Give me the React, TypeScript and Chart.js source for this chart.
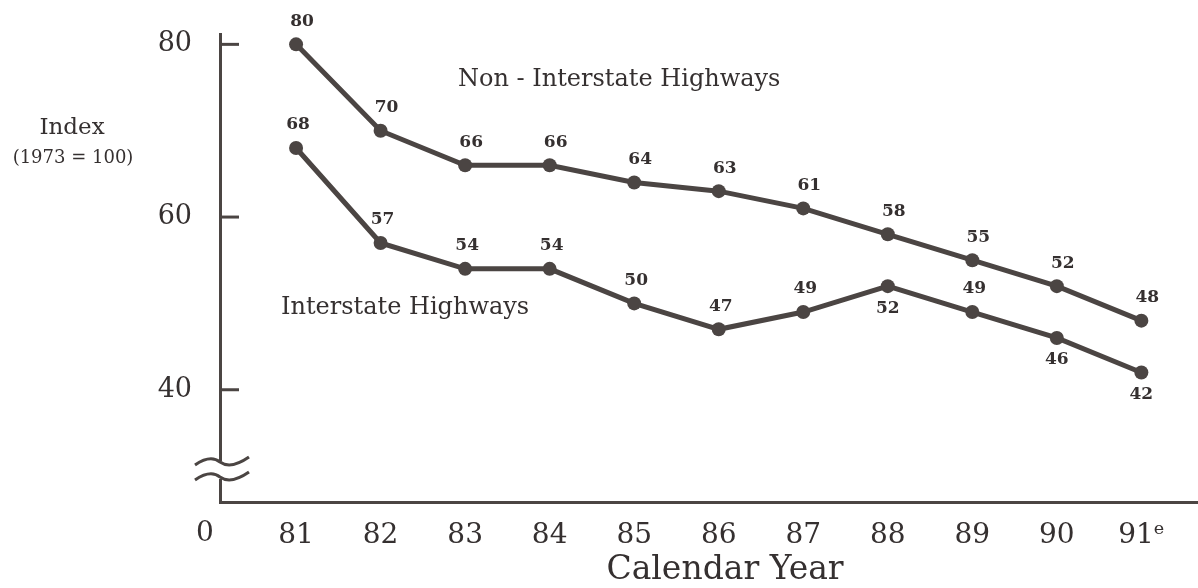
import { useEffect, useRef } from 'react';
import { Chart, registerables } from 'chart.js';

Chart.register(...registerables);

// chart values
const years = [81, 82, 83, 84, 85, 86, 87, 88, 89, 90, 91];
const yearLabels = ['81', '82', '83', '84', '85', '86', '87', '88', '89', '90', '91ᵉ'];
const nonInterstate = [80, 70, 66, 66, 64, 63, 61, 58, 55, 52, 48];
const interstate = [68, 57, 54, 54, 50, 47, 49, 52, 49, 46, 42];
const yTicks = [40, 60, 80];

const INK = '#4b4543';
const TEXT = '#353030';
const SERIF = "'DejaVu Serif', serif";

const decorPlugin = {
  id: 'decor',
  afterDatasetsDraw(chart: any, _args: any, opts: any) {
    const { ctx } = chart;
    ctx.save();
    ctx.fillStyle = TEXT;
    ctx.font = `bold 17px ${SERIF}`;
    ctx.textAlign = 'center';
    ctx.textBaseline = 'middle';
    chart.data.datasets.forEach((ds: any, di: number) => {
      const meta = chart.getDatasetMeta(di);
      const below: number[] = (opts.below && opts.below[di]) || [];
      const dx = di === 0 ? 6 : 2;
      meta.data.forEach((pt: any, i: number) => {
        const isBelow = below.includes(i);
        const v = ds.data[i].y;
        ctx.fillText(String(v), pt.x + (isBelow ? 0 : dx), pt.y + (isBelow ? 22 : -23));
      });
    });
    ctx.restore();
  },
  afterDraw(chart: any) {
    const { ctx, chartArea, scales } = chart;
    const left = chartArea.left;
    const bottom = chartArea.bottom;
    ctx.save();
    ctx.strokeStyle = INK;
    ctx.lineWidth = 3;
    ctx.lineCap = 'butt';

    // tick marks on the inside of the y axis
    yTicks.forEach((v) => {
      const py = scales.y.getPixelForValue(v);
      ctx.beginPath();
      ctx.moveTo(left, py);
      ctx.lineTo(left + 19, py);
      ctx.stroke();
    });

    // axis break
    ctx.fillStyle = '#ffffff';
    ctx.fillRect(left - 4, bottom - 41, 8, 18);
    [bottom - 40, bottom - 25].forEach((wy) => {
      ctx.beginPath();
      ctx.moveTo(left - 25, wy + 3);
      ctx.bezierCurveTo(left - 12, wy - 6, left - 5, wy - 4, left, wy);
      ctx.bezierCurveTo(left + 7, wy + 5, left + 16, wy + 4, left + 29, wy - 5);
      ctx.stroke();
    });

    // free text
    ctx.fillStyle = TEXT;
    ctx.textBaseline = 'middle';
    ctx.textAlign = 'center';
    ctx.font = `23px ${SERIF}`;
    ctx.fillText('Index', 72, 128);
    ctx.font = `18px ${SERIF}`;
    ctx.fillText('(1973 = 100)', 73, 158);
    ctx.font = `28px ${SERIF}`;
    ctx.fillText('0', left - 15, bottom + 32);
    ctx.font = `33px ${SERIF}`;
    ctx.fillText('Calendar Year', 725, 570);
    ctx.textAlign = 'left';
    ctx.font = `24px ${SERIF}`;
    ctx.fillText('Non - Interstate Highways', 458, 80);
    ctx.fillText('Interstate Highways', 281, 308);
    ctx.restore();
  },
};

export default function App() {
  const canvasRef = useRef<HTMLCanvasElement>(null);
  const chartRef = useRef<Chart | null>(null);

  useEffect(() => {
    if (!canvasRef.current) return;
    if (chartRef.current) chartRef.current.destroy();

    const line = (data: number[]) => ({
      data: data.map((v, i) => ({ x: years[i], y: v })),
      borderColor: INK,
      backgroundColor: INK,
      borderWidth: 5,
      pointRadius: 7,
      pointBorderWidth: 0,
      pointBackgroundColor: INK,
      tension: 0,
    });

    chartRef.current = new Chart(canvasRef.current, {
      type: 'line',
      data: {
        datasets: [
          { label: 'Non - Interstate Highways', ...line(nonInterstate) },
          { label: 'Interstate Highways', ...line(interstate) },
        ],
      },
      options: {
        animation: false,
        responsive: false,
        devicePixelRatio: 1,
        layout: { autoPadding: false, padding: { top: 34, left: 0, right: 0, bottom: 0 } },
        plugins: {
          legend: { display: false },
          tooltip: { enabled: false },
          decor: { below: { 1: [7, 9, 10] } },
        } as any,
        scales: {
          x: {
            type: 'linear',
            min: 80.1,
            max: 91.67,
            grid: { display: false, drawTicks: false },
            border: { display: true, color: INK, width: 3 },
            afterBuildTicks: (s: any) => {
              s.ticks = years.map((v) => ({ value: v }));
            },
            afterFit: (s: any) => {
              s.height = 86;
              s.paddingLeft = 0;
              s.paddingRight = 0;
            },
            ticks: {
              autoSkip: false,
              maxRotation: 0,
              padding: 17,
              color: TEXT,
              font: { family: SERIF, size: 28 },
              callback: (v: any) => yearLabels[years.indexOf(Number(v))],
            },
          },
          y: {
            type: 'linear',
            min: 27,
            max: 81.2,
            grid: { display: false, drawTicks: false },
            border: { display: true, color: INK, width: 3 },
            afterBuildTicks: (s: any) => {
              s.ticks = yTicks.map((v) => ({ value: v }));
            },
            afterFit: (s: any) => {
              s.width = 220;
              s.paddingTop = 0;
              s.paddingBottom = 0;
            },
            ticks: {
              padding: 28,
              color: TEXT,
              font: { family: SERIF, size: 27 },
            },
          },
        },
      },
      plugins: [decorPlugin],
    });

    return () => {
      if (chartRef.current) {
        chartRef.current.destroy();
        chartRef.current = null;
      }
    };
  }, []);

  return (
    <div style={{ position: 'fixed', left: 0, top: 0, width: 1198, height: 588, background: '#fff' }}>
      <canvas ref={canvasRef} width={1198} height={588} style={{ display: 'block' }}></canvas>
    </div>
  );
}
